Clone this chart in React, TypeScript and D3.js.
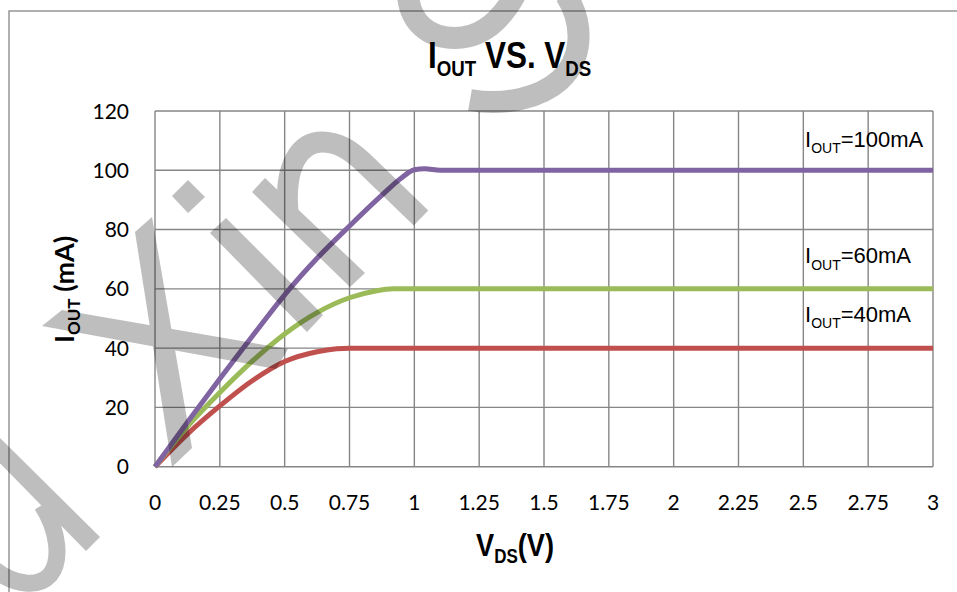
import * as d3 from "d3";
import React from "react";

// values
const xTicks = [0, 0.25, 0.5, 0.75, 1, 1.25, 1.5, 1.75, 2, 2.25, 2.5, 2.75, 3];
const yTicks = [0, 20, 40, 60, 80, 100, 120];

const vds100 = [0, 0.125, 0.25, 0.375, 0.5, 0.625, 0.75, 0.875, 0.95, 1.0, 1.04, 1.1, 3];
const iout100 = [0, 15, 29.7, 44, 58, 70.3, 81.2, 91.6, 97.4, 100.2, 100.5, 100, 100];

const vds60 = [0, 0.125, 0.25, 0.375, 0.5, 0.625, 0.75, 0.85, 0.92, 1.0, 3];
const iout60 = [0, 13.5, 25, 35.6, 44.8, 52, 57, 59.3, 60, 60, 60];

const vds40 = [0, 0.125, 0.25, 0.375, 0.5, 0.625, 0.7, 0.75, 1.0, 3];
const iout40 = [0, 11, 20.5, 29, 35.5, 38.8, 39.8, 40, 40, 40];

const seriesNames = ["40mA", "60mA", "100mA"];
const seriesColors = ["#C0504D", "#9BBB59", "#8064A2"];
const labelValues = [40, 60, 100];

const W = 957, H = 592;
const gridColor = "#868686";

function App() {
    const x = d3.scaleLinear().domain([0, 3]).range([155, 933]);
    const y = d3.scaleLinear().domain([0, 120]).range([466.7, 111]);

    const line = d3.line<[number, number]>()
        .x(d => x(d[0]))
        .y(d => y(d[1]))
        .curve(d3.curveMonotoneX);

    const series = [
        vds40.map((v, i) => [v, iout40[i]] as [number, number]),
        vds60.map((v, i) => [v, iout60[i]] as [number, number]),
        vds100.map((v, i) => [v, iout100[i]] as [number, number]),
    ];

    // label baselines, sitting a bit above each flat line
    const labelY = [y(40) - 26.3, y(60) - 25.4, y(100) - 23.6];

    return (
        <svg width={W} height={H} style={{position: "absolute", left: 0, top: 0}}>
            <rect x={0} y={0} width={W} height={H} fill="#fff"/>
            <rect x={9} y={11} width={1200} height={1200} fill="none" stroke={gridColor} strokeWidth={1.3}/>

            {/* grid */}
            <g stroke={gridColor} strokeWidth={1.4}>
                {xTicks.map(t => (
                    <line key={"vx" + t} x1={x(t)} x2={x(t)} y1={y(120)} y2={y(0)}/>
                ))}
                {yTicks.map(t => (
                    <line key={"hy" + t} x1={x(0)} x2={x(3)} y1={y(t)} y2={y(t)}/>
                ))}
            </g>

            {/* tick labels */}
            <g fontFamily="Lato, 'Open Sans', sans-serif" fontSize={21} fill="#000">
                {yTicks.map(t => (
                    <text key={"ly" + t} x={129} y={y(t)} dy="0.36em" textAnchor="end">{String(t)}</text>
                ))}
                {xTicks.map(t => (
                    <text key={"lx" + t} x={x(t)} y={502} dy="0.36em" textAnchor="middle">{String(t)}</text>
                ))}
            </g>

            {/* curves */}
            {series.map((s, i) => (
                <path key={seriesNames[i]} d={line(s) || ""} fill="none" stroke={seriesColors[i]}
                      strokeWidth={5} strokeLinejoin="round"/>
            ))}

            {/* series labels */}
            <g fontFamily="'Liberation Sans', Arial, sans-serif" fontSize={22} fill="#000">
                {labelValues.map((v, i) => (
                    <text key={"s" + v} x={805} y={labelY[i]}>
                        <tspan>I</tspan>
                        <tspan fontSize={14} dy={6.6}>OUT</tspan>
                        <tspan dy={-6.6}>={seriesNames[i]}</tspan>
                    </text>
                ))}
            </g>

            {/* title */}
            <g transform="translate(428,68.3) scale(0.85,1)">
                <text fontFamily="'Liberation Sans', Arial, sans-serif" fontWeight="bold" fontSize={37} xmlSpace="preserve">
                    <tspan>I</tspan>
                    <tspan fontSize={22} dy={7.7}>OUT</tspan>
                    <tspan dy={-7.7}> VS. V</tspan>
                    <tspan fontSize={22} dy={7.7}>DS</tspan>
                </text>
            </g>

            {/* x axis title */}
            <g transform="translate(476,556) scale(0.85,1)">
                <text fontFamily="'Liberation Sans', Arial, sans-serif" fontWeight="bold" fontSize={32}>
                    <tspan>V</tspan>
                    <tspan fontSize={20} dy={6.5}>DS</tspan>
                    <tspan dy={-6.5}>(V)</tspan>
                </text>
            </g>

            {/* y axis title */}
            <g transform="translate(74,343) rotate(-90)">
                <text fontFamily="Lato, sans-serif" fontWeight="bold" fontSize={27} xmlSpace="preserve">
                    <tspan>I</tspan>
                    <tspan fontSize={17} dy={6}>OUT</tspan>
                    <tspan dy={-6}> (mA)</tspan>
                </text>
            </g>

            {/* watermark overlay */}
            <g opacity={0.25} fill="#000" stroke="none">
                <polygon points="135,232 152,217 192,448 172,467"/>
                <polygon points="42,326 62,310 288,349 276,369"/>
                <polygon points="172,196 188,180 205,197 188,213"/>
                <polygon points="210,233 226,218 323,315 307,332"/>
                <polygon points="252,192 265,178 365,273 350,287"/>
                <polygon points="-10,428 100,537 86,551 -10,453"/>
                <g fill="none" stroke="#000" strokeLinecap="butt">
                    <path d="M288,212 C284,165 300,142 322,142 C338,142 350,150 362,161 L421,218" strokeWidth={21}/>
                    <path d="M408,-5 C410,22 428,38 455,38 C480,38 500,22 515,-5" strokeWidth={22}/>
                    <path d="M566,-5 C585,25 582,60 560,80 C540,98 505,106 470,100" strokeWidth={22}/>
                    <path d="M42,505 C58,530 62,560 50,575 C38,588 15,585 -5,570" strokeWidth={17}/>
                </g>
            </g>
        </svg>
    );
}

export default App;
